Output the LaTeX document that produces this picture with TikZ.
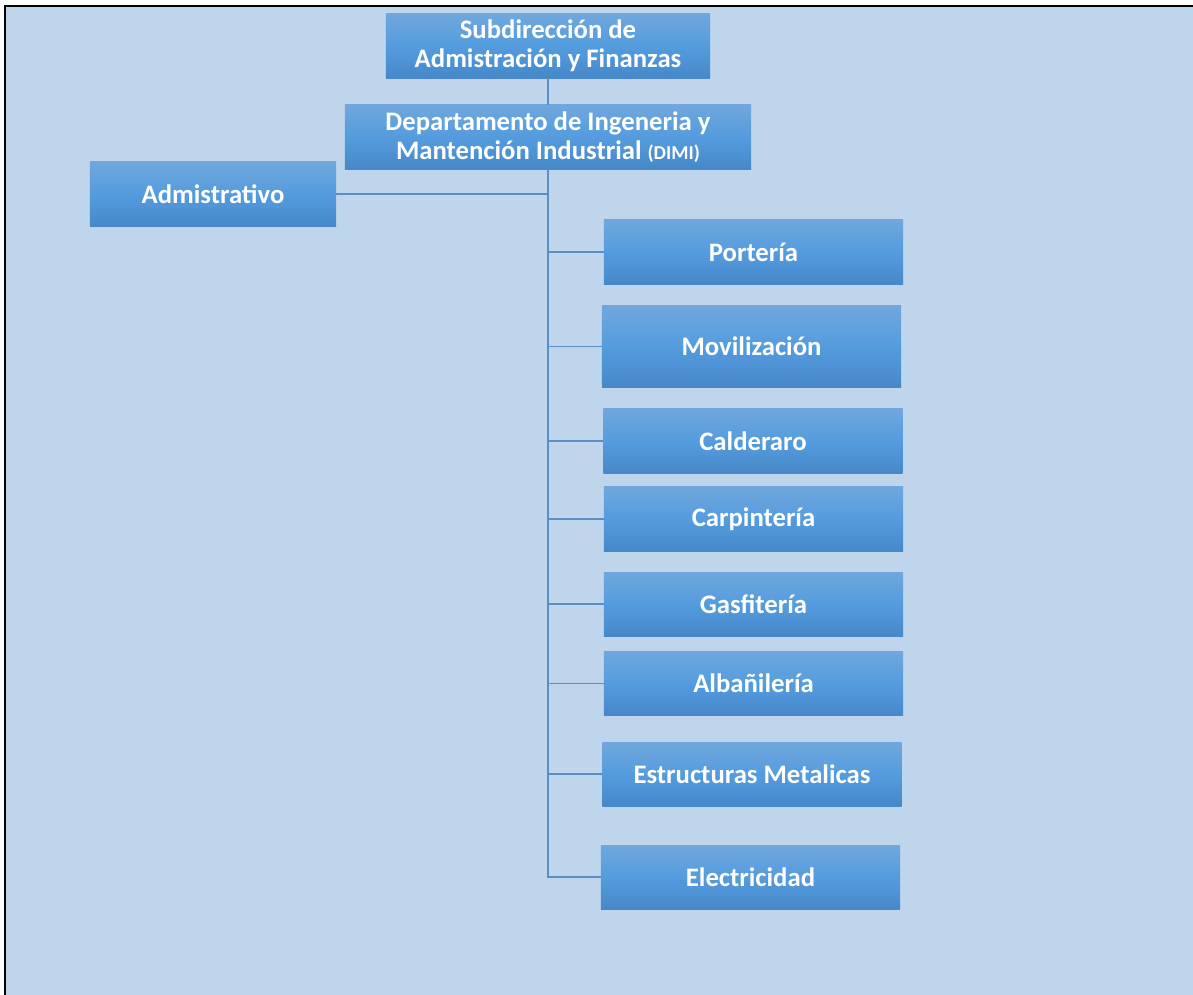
\documentclass[tikz,border=0pt]{standalone}
\usepackage{fontspec}
\setmainfont{Carlito}
\usepackage{tikz}
\usetikzlibrary{positioning, calc}
\definecolor{fondo}{HTML}{BED5EC}
\definecolor{cajaarriba}{HTML}{70A7DD}
\definecolor{cajamedio}{HTML}{549CDE}
\definecolor{cajaabajo}{HTML}{4688CA}
\definecolor{linea}{HTML}{5A8EC6}
\tikzset{
    x=0.025cm, y=-0.025cm, % one unit is one pixel of the layout
    caja/.style={inner sep=0pt, minimum width=7.475cm, minimum height=1.6cm,
        top color=cajaarriba, bottom color=cajaabajo, middle color=cajamedio,
        text=white, align=center, font=\fontsize{19}{20.8}\selectfont\bfseries}, % every box of the chart
    rama/.style={draw=linea, line width=1.2pt}, % the connecting lines
}

\begin{document}
\begin{tikzpicture}
            \useasboundingbox (0,0) rectangle (1193,995);
            \draw[fill=fondo, line width=1.6pt] (5,6) rectangle (1210,1010);

            \node[caja, minimum width=8.1cm] (sub) at (548,46) {Subdirección de\\Admistración y Finanzas};
            \node[caja, minimum width=10.15cm] (dimi) at (548,137) {Departamento de Ingeneria y\\Mantención Industrial {\fontsize{14}{16}\selectfont(DIMI)}};
            \node[caja, minimum width=6.15cm] (adm) at (213,194) {Admistrativo};

            \node[caja] (port) at (753.5,252) {Portería};
            \node[caja, minimum height=2.025cm] (movi) at (751.5,346.5) {Movilización};
            \node[caja] (cald) at (753,441) {Calderaro};
            \node[caja] (carp) at (753.5,519) {Carpintería};
            \node[caja] (gasf) at (753.5,604) {Gasfitería};
            \node[caja] (alba) at (753.5,683.5) {Albañilería};
            \node[caja] (estr) at (752,774) {Estructuras Metalicas};
            \node[caja] (elec) at (750.5,877) {Electricidad};

            \coordinate (fin) at (elec.west -| dimi.south);
            \draw[rama] (sub) -- (dimi);
            \draw[rama] (dimi.south) -- (fin) -- (elec.west);
            \draw[rama] (adm.east) -- (adm.east -| dimi.south);
            \foreach \b in {port, movi, cald, carp, gasf, alba, estr}
                \draw[rama] (\b.west) -- (\b.west -| dimi.south);
\end{tikzpicture}
\end{document}
